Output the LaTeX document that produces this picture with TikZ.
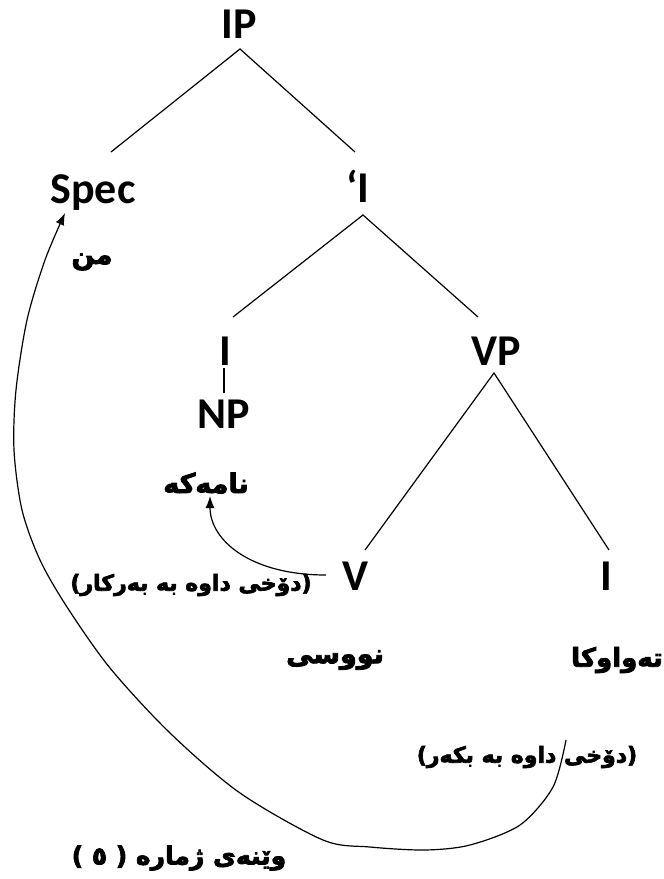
\documentclass[tikz,border=0pt]{standalone}
\usepackage{fontspec}
\setmainfont{Carlito}
\newfontfamily\kurd[Script=Arabic,FakeBold=3]{DejaVu Sans Bold}
\TeXXeTstate=1
\usetikzlibrary{arrows.meta}
\tikzset{
  lat/.style={font=\fontsize{44}{44}\selectfont\bfseries, inner sep=0pt, anchor=base},
  ku/.style={font=\kurd\fontsize{#1}{#1}\selectfont, inner sep=0pt},
  edge/.style={line width=1.2pt},
  mv/.style={line width=1.2pt, -{Latex[length=12pt,width=9pt]}},
}
\begin{document}
\begin{tikzpicture}[x=1pt,y=-1pt]
\useasboundingbox (0,0) rectangle (664,879);
% Latin labels (base anchor)
\node[lat] (IP)   at (239,38)  {IP};
\node[lat] (Spec) at (93,203)  {Spec};
\node[lat] (Ib)   at (358,202) {‘I};
\node[lat] (I1)   at (225,365) {I};
\node[lat] (VP)   at (496,365) {VP};
\node[lat] (NP)   at (224,428) {NP};
\node[lat] (V)    at (356,590) {V};
\node[lat] (I2)   at (606,590) {I};
% Kurdish texts
\node[ku=27] (min)   at (92,262)  {\beginR من\endR};
\node[ku=27] (nama)  at (206,483) {\beginR نامەکە\endR};
\node[ku=22] (bakar) at (191,585) {\beginR (دۆخی داوە بە بەرکار)\endR};
\node[ku=27] (nusi)  at (335,660) {\beginR نووسی\endR};
\node[ku=26] (tawa)  at (617,660) {\beginR تەواوکا\endR};
\node[ku=22] (bkar)  at (527,757) {\beginR (دۆخی داوە بە بکەر)\endR};
\node[ku=25] (cap)   at (179,858) {\beginR وێنەی ژمارە ( ٥ )\endR};
% tree edge end points
\coordinate (IPb) at (240,49);
\coordinate (SpecT) at (111,152);
\coordinate (IbT) at (355,152);
\coordinate (IbB) at (363,215);
\coordinate (I1T) at (233,317);
\coordinate (VPT) at (478,317);
\coordinate (I1B) at (224,368);
\coordinate (NPT) at (224,393);
\coordinate (VPB) at (494,373);
\coordinate (VT) at (365,550);
\coordinate (I2T) at (609,550);
\draw[edge] (SpecT) -- (IPb) -- (IbT);
\draw[edge] (I1T) -- (IbB) -- (VPT);
\draw[edge] (I1B) -- (NPT);
\draw[edge] (VT) -- (VPB) -- (I2T);
% movement arrows
\coordinate (vArr) at (326,575);
\coordinate (namaArr) at (210,496);
\draw[mv] (vArr) .. controls (250,575) and (210,540) .. (namaArr);
\coordinate (bS) at (566,740);
\coordinate (specArr) at (65,213);
\draw[mv] plot[smooth] coordinates {(bS) (553,787) (520,825) (470,845) (425,850) (370,847) (323,840) (240,793) (170,733) (110,668) (67,607) (40,560) (22,510) (14,450) (16,390) (27,320) (45,260) (specArr)};
\end{tikzpicture}
\end{document}
